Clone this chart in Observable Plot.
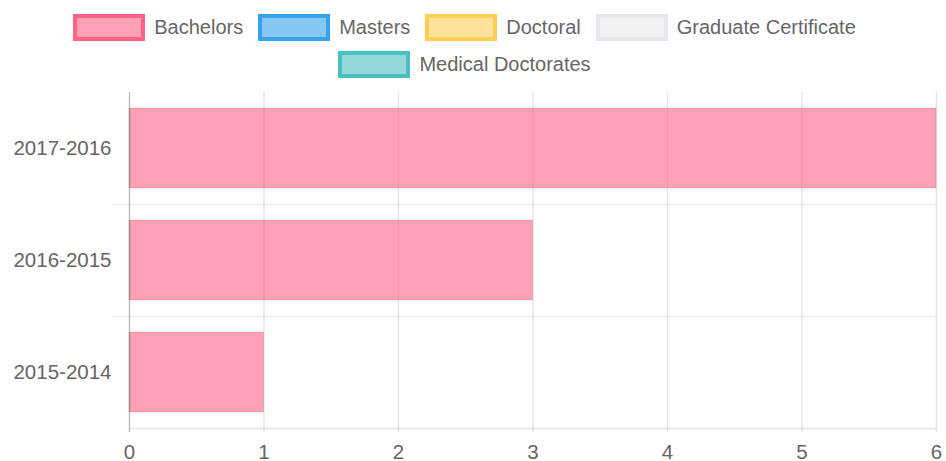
<!DOCTYPE html>
<html><head><meta charset="utf-8">
<script src="https://cdn.jsdelivr.net/npm/d3@7"></script>
<script src="https://cdn.jsdelivr.net/npm/@observablehq/plot@0.6"></script>
<style>
body{margin:0;background:#fff;font-family:"Liberation Sans",Arial,sans-serif;}
#legend{width:929px;height:88px;box-sizing:border-box;padding-top:13px;display:flex;flex-wrap:wrap;justify-content:center;row-gap:9px;column-gap:15px;align-content:flex-start}
.item{display:flex;align-items:center;height:28px;font-size:20px;color:#666;white-space:nowrap}
.sw{width:72px;height:27px;box-sizing:border-box;border:4px solid;margin-right:9px}
#chart svg{display:block;overflow:visible}
</style></head><body>
<div id="legend"></div><div id="chart"></div>
<script>
const categories = ["2017-2016", "2016-2015", "2015-2014"];
const bachelors = [6, 3, 1];
const masters = [0, 0, 0];
const doctoral = [0, 0, 0];
const gradCert = [0, 0, 0];
const medDoc = [0, 0, 0];
const seriesNames = ["Bachelors", "Masters", "Doctoral", "Graduate Certificate", "Medical Doctorates"];
const seriesFills = ["rgba(255,99,132,0.6)", "rgba(54,162,235,0.6)", "rgba(255,206,86,0.6)", "rgba(231,233,237,0.6)", "rgba(75,192,192,0.6)"];
const seriesBorders = ["rgb(255,99,132)", "rgb(54,162,235)", "rgb(255,206,86)", "rgb(231,233,237)", "rgb(75,192,192)"];
const xTicks = [0, 1, 2, 3, 4, 5, 6];

const seriesValues = [bachelors, masters, doctoral, gradCert, medDoc];
const rows = [];
seriesValues.forEach((vals, si) => {
  vals.forEach((v, ci) => { if (v) rows.push({category: categories[ci], series: seriesNames[si], value: v}); });
});

// legend
const legend = document.getElementById("legend");
seriesNames.forEach((name, i) => {
  const it = document.createElement("div");
  it.className = "item";
  const sw = document.createElement("span");
  sw.className = "sw";
  sw.style.background = seriesFills[i];
  sw.style.borderColor = seriesBorders[i];
  it.appendChild(sw);
  it.appendChild(document.createTextNode(name));
  legend.appendChild(it);
});

const chart = Plot.plot({
  width: 946,
  height: 373,
  marginTop: 4,
  marginBottom: 33,
  marginLeft: 129,
  marginRight: 10,
  style: {fontFamily: "'Liberation Sans', Arial, sans-serif", fontSize: "20.5px", color: "#666", background: "#fff", overflow: "visible"},
  x: {domain: [0, 6], ticks: xTicks, label: null},
  y: {domain: categories, paddingInner: 0.2857, paddingOuter: 0.14285, align: 0.5, label: null},
  color: {domain: seriesNames, range: seriesFills},
  marks: [
    Plot.ruleX(xTicks.filter(d => d !== 0), {x: d => d, stroke: "rgba(0,0,0,0.1)", strokeWidth: 1.5, insetBottom: -4}),
    Plot.ruleY(categories.slice(0, -1), {y: d => d, dy: 56, stroke: "rgba(0,0,0,0.07)", strokeWidth: 1.5, insetLeft: -17}),
    Plot.ruleY(categories.slice(-1), {y: d => d, dy: 56, stroke: "rgba(0,0,0,0.1)", strokeWidth: 1.5}),
    Plot.barX(rows, {x: "value", y: "category", fill: "series", stroke: "rgba(0,0,0,0.12)", strokeWidth: 1}),
    Plot.ruleX([0], {stroke: "rgba(0,0,0,0.25)", strokeWidth: 1.5, insetBottom: -4}),
    Plot.axisX({ticks: xTicks, tickSize: 0, tickPadding: 16, tickFormat: d => String(d), fill: "#666", label: null}),
    Plot.axisY({tickSize: 0, tickPadding: 18, fill: "#666", label: null})
  ]
});
document.getElementById("chart").appendChild(chart);
</script>
</body></html>
